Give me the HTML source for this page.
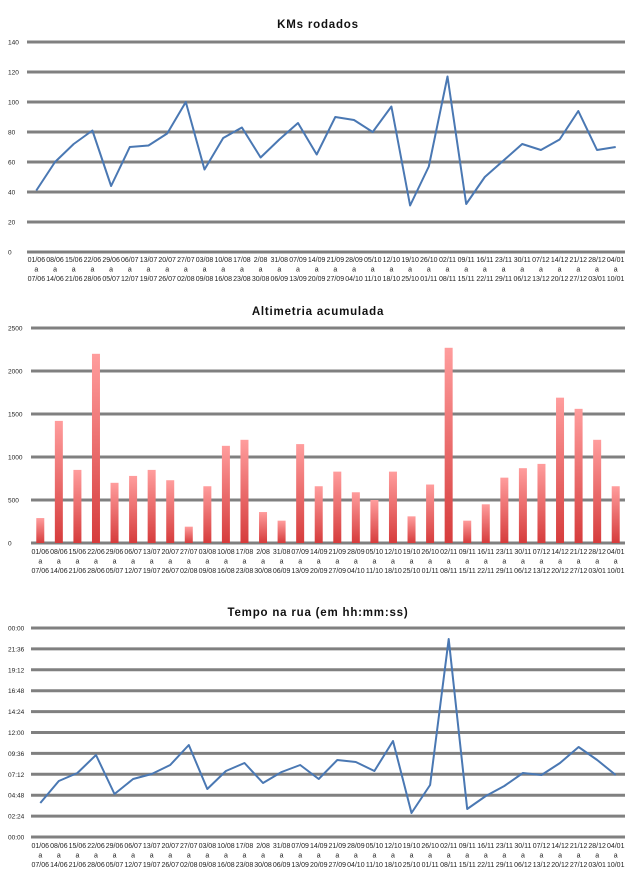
<!DOCTYPE html>
<html><head><meta charset="utf-8"><style>
html,body{margin:0;padding:0;background:#fff;}
svg{display:block;font-family:"Liberation Sans",sans-serif;}
</style></head><body>
<svg id="s" width="631" height="877" xmlns="http://www.w3.org/2000/svg"></svg>
<script>
(function(){
var s=document.getElementById('s');var h='';
h+='<defs><linearGradient id="g" x1="0" y1="0" x2="0" y2="1"><stop offset="0" stop-color="#ff9d9d"/><stop offset="1" stop-color="#d63c3c"/></linearGradient></defs>';
var tl=["01/06","08/06","15/06","22/06","29/06","06/07","13/07","20/07","27/07","03/08","10/08","17/08"," 2/08","31/08","07/09","14/09","21/09","28/09","05/10","12/10","19/10","26/10","02/11","09/11","16/11","23/11","30/11","07/12","14/12","21/12","28/12","04/01"];
var bl=["07/06","14/06","21/06","28/06","05/07","12/07","19/07","26/07","02/08","09/08","16/08","23/08","30/08","06/09","13/09","20/09","27/09","04/10","11/10","18/10","25/10","01/11","08/11","15/11","22/11","29/11","06/12","13/12","20/12","27/12","03/01","10/01"];
function labels(x0,x1,y){var w=(x1-x0)/32;for(var i=0;i<32;i++){var cx=x0+w*(i+0.5);
h+='<text x="'+cx+'" y="'+y+'" font-size="7" text-anchor="middle" fill="#222">'+tl[i]+'</text>';
h+='<text x="'+cx+'" y="'+(y+9.5)+'" font-size="7" text-anchor="middle" fill="#222">a</text>';
h+='<text x="'+cx+'" y="'+(y+19)+'" font-size="7" text-anchor="middle" fill="#222">'+bl[i]+'</text>';}}
function grid(x0,x1,ys,labs){for(var i=0;i<ys.length;i++){h+='<line x1="'+x0+'" x2="'+x1+'" y1="'+ys[i]+'" y2="'+ys[i]+'" stroke="#808080" stroke-width="3"/>';
h+='<text x="8" y="'+(ys[i]+2.5)+'" font-size="6.5" fill="#222">'+labs[i]+'</text>';}}
function title(t,y){h+='<text x="318" y="'+y+'" font-size="11.5" font-weight="bold" text-anchor="middle" letter-spacing="0.8" fill="#111">'+t+'</text>';}
title("KMs rodados",28);
var ys=[],lb=[];for(var v=0;v<=140;v+=20){ys.push(252-v*1.5);lb.push(v);}
grid(27,625,ys,lb);
var k=[41,60,72,81,44,70,71,79,100,55,76,83,63,75,86,65,90,88,80,97,31,57,117,32,50,61,72,68,75,94,68,70];
var w=(625-27)/32,p=[];for(var i=0;i<32;i++)p.push((27+w*(i+0.5)).toFixed(1)+','+(252-k[i]*1.5).toFixed(1));
h+='<polyline points="'+p.join(' ')+'" fill="none" stroke="#4a78b3" stroke-width="2" stroke-linejoin="round"/>';
labels(27,625,262);
title("Altimetria acumulada",315);
ys=[];lb=[];for(var v=0;v<=2500;v+=500){ys.push(543-v*0.086);lb.push(v);}
grid(31,625,ys,lb);
var a=[290,1420,850,2200,700,780,850,730,190,660,1130,1200,360,260,1150,660,830,590,500,830,310,680,2270,260,450,760,870,920,1690,1560,1200,660];
w=(625-31)/32;for(var i=0;i<32;i++){var cx=31+w*(i+0.5),hh=a[i]*0.086;
h+='<rect x="'+(cx-4)+'" y="'+(543-hh)+'" width="8" height="'+hh+'" fill="url(#g)"/>';}
labels(31,625,554);
title("Tempo na rua (em hh:mm:ss)",616);
ys=[];lb=["00:00","02:24","04:48","07:12","09:36","12:00","14:24","16:48","19:12","21:36","00:00"];
for(var i=0;i<=10;i++)ys.push(837-i*20.9);
grid(31,625,ys,lb);
var t=[803,781,773,755,794,779,774,765,745,789,771,763,783,772,765,779,760,762,771,741,813,785,639,809,796,786,773,775,763,747,760,775];
p=[];for(var i=0;i<32;i++)p.push((31+w*(i+0.5)).toFixed(1)+','+t[i]);
h+='<polyline points="'+p.join(' ')+'" fill="none" stroke="#4a78b3" stroke-width="2" stroke-linejoin="round"/>';
labels(31,625,848);
s.innerHTML=h;
})();
</script>
</body></html>
